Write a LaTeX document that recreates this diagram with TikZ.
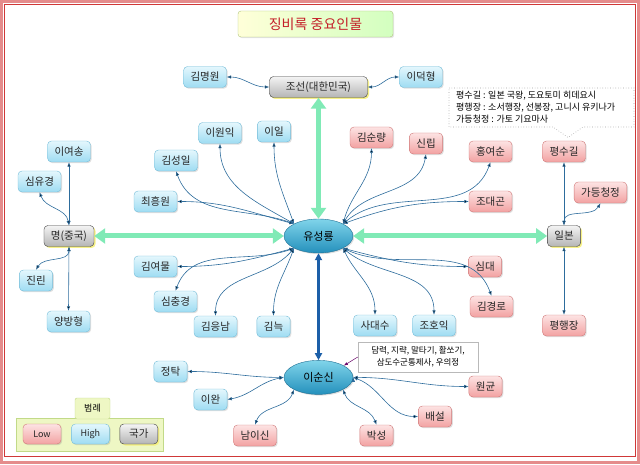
\documentclass[tikz,border=0pt]{standalone}
\usepackage{fontspec}
\setmainfont{Noto Sans CJK KR}
\usepackage{tikz}
\usetikzlibrary{positioning, shapes.geometric, shadows, arrows.meta}
\usepackage{xcolor}
\definecolor{hiTop}{HTML}{E4F7FD}
\definecolor{hiBot}{HTML}{9EDCF2}
\definecolor{hiLine}{HTML}{74BCD8}
\definecolor{loTop}{HTML}{FDE3E3}
\definecolor{loBot}{HTML}{F2A2A2}
\definecolor{loLine}{HTML}{D07878}
\definecolor{naTop}{HTML}{F4F4F4}
\definecolor{naBot}{HTML}{B4B4B4}
\definecolor{naLine}{HTML}{404040}
\definecolor{glow}{HTML}{F6F07A}
\definecolor{hubTop}{HTML}{80D4EA}
\definecolor{hubBot}{HTML}{2490BC}
\definecolor{hubLine}{HTML}{1F6F93}
\definecolor{linkBlue}{HTML}{2D6C9C}
\definecolor{mint}{HTML}{80EAB6}
\definecolor{bondBlue}{HTML}{1C5FA8}
\definecolor{frameRed}{HTML}{E58C8C}
\definecolor{frameLine}{HTML}{D03838}
\definecolor{titleRed}{HTML}{C41E28}
\definecolor{legendFill}{HTML}{EEF7C4}
\definecolor{legendLine}{HTML}{C2DA88}

\begin{document}
\begin{tikzpicture}[x=1pt, y=-1pt,
	font=\fontsize{10.5}{12}\selectfont,
	box/.style={rectangle, rounded corners=4pt, inner xsep=7pt,
		minimum height=21pt, text=black!85},
	high/.style={box, draw=hiLine, top color=hiTop, bottom color=hiBot,
		drop shadow={opacity=0.25, shadow xshift=1.2pt, shadow yshift=-1.2pt}},
	low/.style={box, draw=loLine, top color=loTop, bottom color=loBot,
		drop shadow={opacity=0.25, shadow xshift=1.2pt, shadow yshift=-1.2pt}},
	nation/.style={box, draw=naLine, top color=naTop, bottom color=naBot,
		drop shadow={fill=glow, opacity=0.9, shadow xshift=1.5pt, shadow yshift=-1.5pt}},
	hub/.style={ellipse, draw=hubLine, top color=hubTop, bottom color=hubBot,
		minimum width=69pt, minimum height=34pt, inner sep=0pt,
		font=\fontsize{11}{13}\selectfont,
		drop shadow={opacity=0.25, shadow xshift=1.2pt, shadow yshift=-1.2pt}},
	link/.style={<->, >={Latex[length=4.5pt,width=3.5pt]}, draw=linkBlue, line width=0.6pt},
	relation/.style={<->, >={Triangle[length=11pt,width=15pt]}, draw=mint, line width=5pt},
	bond/.style={<->, >={Triangle[length=7pt,width=7pt]}, draw=bondBlue, line width=2.5pt}
	]
	\useasboundingbox (0,0) rectangle (640,465);
	\draw[frameRed, line width=3pt] (1.5,1.5) rectangle (638.5,462);
	\draw[frameLine, line width=0.7pt] (4.5,4.5) rectangle (635,456);

	\node[rectangle, rounded corners=3pt, draw=legendLine!90!black,
		left color=yellow!15, right color=green!70!yellow!25,
		minimum width=155pt, minimum height=26pt,
		font=\fontsize{14}{16}\selectfont, text=titleRed,
		drop shadow={opacity=0.2, shadow xshift=1.2pt, shadow yshift=-1.2pt}
		] (title) at (315.5,24) {징비록 중요인물};

	% Add the main people
	\node[hub] (ys) at (318.5,236) {유성룡};
	\node[hub, below=107pt of ys] (ss) {이순신};
	\node[nation, minimum width=98pt] (js) at (318.5,87) {조선(대한민국)};
	\node[nation] (mg) at (69,236) {명(중국)};
	\node[nation] (ib) at (564,236) {일본};

	% Joseon
	\node[high] (kmw) at (205,77) {김명원};
	\node[high] (ldh) at (421,77) {이덕형};
	% left side of Ryu
	\node[high] (wi) at (220,133) {이원익};
	\node[high] (il) at (274,131.5) {이일};
	\node[high] (ksi) at (176,160.5) {김성일};
	\node[high] (chw) at (155.5,201.5) {최흥원};
	\node[high] (kym) at (155.5,266.5) {김여물};
	\node[high] (scg) at (175.5,301.5) {심충경};
	\node[high] (keun) at (215.5,326.5) {김응남};
	\node[high] (kn) at (273.5,326.5) {김늑};
	% right side of Ryu
	\node[low] (ksr) at (371.5,137.5) {김순량};
	\node[low] (sr) at (426,143.5) {신립};
	\node[low] (hys) at (490.5,151.5) {홍여순};
	\node[low] (jdg) at (490.5,201.5) {조대곤};
	\node[low] (sd) at (485,266.5) {심대};
	\node[low] (kgr) at (491.5,306.5) {김경로};
	\node[high] (sds) at (375,325.5) {사대수};
	\node[high] (jhi) at (434,325.5) {조호익};
	% Ming
	\node[high] (lys) at (69,151.5) {이여송};
	\node[high] (syg) at (39.5,181.5) {심유경};
	\node[high] (jr) at (36,280.5) {진린};
	\node[high] (ybh) at (68.5,321.5) {양방형};
	% Japan
	\node[low] (psg) at (564,151.5) {평수길};
	\node[low] (gdcj) at (600.5,192.5) {가등청정};
	\node[low] (phj) at (564,325.5) {평행장};
	% Yi Sun-sin
	\node[high] (jt) at (170.5,371.5) {정탁};
	\node[high] (lw) at (210.5,399.5) {이완};
	\node[low] (nis) at (255,435.5) {남이신};
	\node[low] (bs) at (376.5,435.5) {박성};
	\node[low] (bsl) at (435,416.5) {배설};
	\node[low] (wg) at (485.5,386.5) {원균};

	% notes
	\filldraw[draw=gray!75, fill=white, dotted, line width=0.6pt]
		(449,88) -- (634,88) -- (634,127) -- (583,127) -- (568,137.5)
		-- (553,127) -- (449,127) -- cycle;
	\node[align=left, font=\fontsize{9}{12}\selectfont, inner sep=0pt,
		anchor=north west] (note1) at (456,91)
		{평수길 : 일본 국왕, 도요토미 히데요시\\평행장 : 소서행장, 선봉장, 고니시 유키나가\\가등청정 : 가토 기요마사};
	\node[draw=gray!55, fill=white, align=center,
		font=\fontsize{8.5}{12}\selectfont,
		minimum width=120pt, minimum height=30pt
		] (note2) at (418,357) {담력, 지략, 말타기, 활쏘기,\\삼도수군통제사, 우의정};
	\draw[->, >={Latex[length=4pt,width=3pt]}, draw=violet!80!black, line width=0.5pt]
		(note2.west) -- (ss.25);

	% legend
	\node[rectangle, draw=legendLine, fill=legendFill,
		minimum width=147pt, minimum height=33pt] (legend) at (89.5,434.5) {};
	\node[rectangle, rounded corners=2pt, draw=legendLine, fill=legendFill,
		minimum width=35pt, minimum height=21pt,
		font=\fontsize{9}{11}\selectfont] (lgtitle) at (92.5,408.5) {범례};
	\node[low, minimum width=38pt, minimum height=20pt,
		font=\fontsize{9}{11}\selectfont] (lglow) at (42,434) {Low};
	\node[high, minimum width=38pt, minimum height=20pt,
		font=\fontsize{9}{11}\selectfont, right=10pt of lglow] (lghigh) {High};
	\node[nation, minimum width=38pt, minimum height=20pt,
		right=10pt of lghigh] (lgnation) {국가};

	% main relations
	\draw[relation] (js.south) -- (ys.north);
	\draw[relation] (mg.east) -- (ys.west);
	\draw[relation] (ib.west) -- (ys.east);
	\draw[bond] (ys.south) -- (ss.north);

	% people
	\draw[link]
		(kmw.east) edge[out=0, in=180] (js.west)
		(ldh.west) edge[out=180, in=0] (js.east)
		(ys.north west) edge[out=150, in=-90] (wi.south)
		(ys.north west) edge[out=110, in=-90] (il.south)
		(ys.north west) edge[out=160, in=-70] (ksi.south)
		(ys.north west) edge[out=165, in=0] (chw.east)
		(ys.north east) edge[out=75, in=-90] (ksr.south)
		(ys.north east) edge[out=60, in=-100] (sr.south)
		(ys.north east) edge[out=40, in=-110] (hys.south)
		(ys.north east) edge[out=20, in=180] (jdg.west)
		(ys.south west) edge[out=195, in=0] (kym.east)
		(ys.south west) edge[out=200, in=70] (scg.north)
		(ys.south west) edge[out=230, in=90] (keun.north)
		(ys.south west) edge[out=250, in=90] (kn.north)
		(ys.south east) edge[out=-15, in=180] (sd.west)
		(ys.south east) edge[out=-25, in=110] (kgr.north)
		(ys.south east) edge[out=-65, in=90] (sds.north)
		(ys.south east) edge[out=-40, in=90] (jhi.north)
		(mg.north) edge (lys.south)
		(mg.north) edge[out=100, in=-70] (syg.south)
		(mg.south) edge[out=-90, in=60] (jr.north)
		(mg.south) edge (ybh.north)
		(ib.north) edge (psg.south)
		(ib.north) edge[out=90, in=-120] (gdcj.south)
		(ib.south) edge (phj.north)
		(ss.west) edge[out=180, in=0] (jt.east)
		(ss.west) edge[out=190, in=10] (lw.east)
		(ss.south west) edge[out=-110, in=70] (nis.north)
		(ss.south east) edge[out=-70, in=110] (bs.north)
		(ss.east) edge[out=-20, in=180] (bsl.west)
		(ss.east) edge[out=0, in=180] (wg.west)
		;
\end{tikzpicture}
\end{document}
